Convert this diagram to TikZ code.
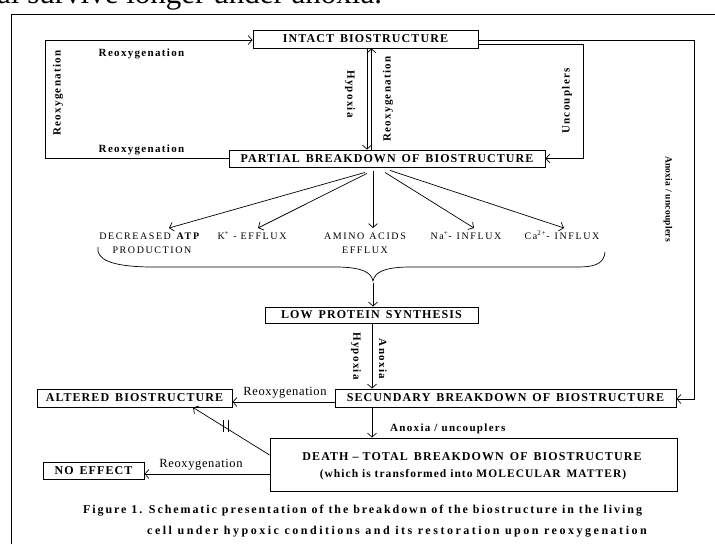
\documentclass[tikz,border=0pt]{standalone}
\usepackage{fontspec}
\setmainfont{Liberation Serif}
\newfontfamily\boxf[LetterSpace=9]{Liberation Serif}
\newfontfamily\labf[LetterSpace=12]{Liberation Serif}
\newfontfamily\labs[LetterSpace=3]{Liberation Serif}
\newfontfamily\effl[LetterSpace=16]{Liberation Serif}
\newfontfamily\plnf[LetterSpace=5]{Liberation Serif}
\newfontfamily\capf[LetterSpace=16]{Liberation Serif}
\newfontfamily\capg[LetterSpace=21]{Liberation Serif}
\newfontfamily\dthf[LetterSpace=9]{Liberation Serif}
\usetikzlibrary{arrows.meta}
\newcommand{\W}{\hspace{0.5em}}
\begin{document}
\begin{tikzpicture}[x=1pt,y=-1pt,
  box/.style={draw, line width=0.9pt, inner sep=0pt, font=\boxf\bfseries\fontsize{12}{14}\selectfont},
  lab/.style={font=\labf\bfseries\fontsize{11}{13}\selectfont, inner sep=0pt},
  eff/.style={font=\effl\fontsize{10}{12}\selectfont, inner sep=0pt, anchor=base},
  plainlab/.style={font=\plnf\fontsize{12.5}{14}\selectfont, inner sep=0pt, anchor=base},
  capt/.style={font=\capf\bfseries\fontsize{12}{14}\selectfont, inner sep=0pt, anchor=base west},
  arr/.style={-{Straight Barb[length=4pt,width=9pt]}, line width=0.7pt},
  ln/.style={line width=0.7pt}]
\useasboundingbox (0,0) rectangle (715,544);
\clip (0,0) rectangle (715,544);

% clipped text of the page above
\node[anchor=base west, inner sep=0pt, font=\fontsize{31}{34}\selectfont] (pagetxt) at (-3,3) {al survive longer under anoxia.};

% outer frame
\draw[line width=0.9pt] (11,544) -- (11,14) -- (715,14);

% boxes
\node[box, minimum width=225pt, minimum height=18pt] (intact) at (365.5,39) {INTACT\W BIOSTRUCTURE};
\node[box, minimum width=316pt, minimum height=17pt] (partial) at (387,158.5) {PARTIAL\W BREAKDOWN\W OF\W BIOSTRUCTURE};
\node[box, minimum width=213pt, minimum height=16pt] (low) at (371.5,315) {LOW\W PROTEIN\W SYNTHESIS};
\node[box, minimum width=341pt, minimum height=18pt] (secund) at (505.5,398) {SECUNDARY\W BREAKDOWN\W OF\W BIOSTRUCTURE};
\node[box, minimum width=195pt, minimum height=18pt] (altered) at (134.5,398) {ALTERED\W BIOSTRUCTURE};
\node[box, minimum width=407pt, minimum height=53pt] (death) at (473.5,464.5) {};
\node[box, minimum width=101pt, minimum height=17pt] (noeff) at (93.5,470.5) {NO\W EFFECT};

\node[font=\boxf\bfseries\fontsize{12}{14}\selectfont, inner sep=0pt, anchor=base] (d1) at (472,460.5) {DEATH – TOTAL\W BREAKDOWN\W OF\W BIOSTRUCTURE};
\node[font=\dthf\bfseries\fontsize{11.5}{13}\selectfont, inner sep=0pt, anchor=base] (d2) at (473,477) {(which is transformed into MOLECULAR\W MATTER)};

% coordinates
\coordinate (L) at (45.5,0);
\coordinate (hx) at (367,0);
\coordinate (rx) at (371.5,0);
\coordinate (ux) at (583,0);
\coordinate (ax) at (694.5,0);
\coordinate (vx) at (372,0);
\coordinate (t1) at (169,228);
\coordinate (t2) at (258,228);
\coordinate (t3) at (373,228);
\coordinate (t4) at (474,228);
\coordinate (t5) at (564,228);
\coordinate (bt) at (373,283);

% left loop
\draw[arr] (partial.west) -- (partial.west -| L) |- ([yshift=-1pt]intact.west);
\node[lab, anchor=base] (rl1) at (141.5,56.5) {Reoxygenation};
\node[lab, anchor=base] (rl2) at (141.5,152.5) {Reoxygenation};
\node[lab, rotate=90] (rl3) at (58,93) {Reoxygenation};

% hypoxia / reoxygenation between intact and partial
\draw[arr] (intact.south -| hx) -- (partial.north -| hx);
\draw[arr] (partial.north -| rx) -- (intact.south -| rx);
\node[lab, rotate=-90] (hy1) at (350,94) {Hypoxia};
\node[lab, rotate=90] (ro1) at (388,99) {Reoxygenation};

% uncouplers
\draw[arr] ([yshift=-5pt]intact.east) -| (partial.east -| ux) -- (partial.east);
\node[lab, rotate=90] (unc) at (567,101) {Uncouplers};

% anoxia / uncouplers right
\draw[arr] ([yshift=-1pt]intact.east) -| ([yshift=-1pt]secund.east -| ax) -- ([yshift=-1pt]secund.east);
\node[font=\labs\bfseries\fontsize{9.5}{11}\selectfont, inner sep=0pt, rotate=-90] (anu) at (668,199) {Anoxia / uncouplers};

% fan
\draw[arr] ([xshift=-22pt,yshift=-5pt]partial.south) -- (t1);
\draw[arr] ([xshift=-20pt,yshift=-6pt]partial.south) -- (t2);
\draw[arr] ([xshift=-14pt,yshift=-4pt]partial.south) -- (t3);
\draw[arr] ([xshift=-2pt,yshift=-5pt]partial.south) -- (t4);
\draw[arr] ([xshift=3pt,yshift=-3pt]partial.south) -- (t5);

\node[eff] (e1) at (150,239.5) {DECREASED \textbf{ATP}};
\node[eff] (e1b) at (152,253.5) {PRODUCTION};
\node[eff] (e2) at (252,239.5) {K\textsuperscript{+} - EFFLUX};
\node[eff] (e3) at (365,239.5) {AMINO\W ACIDS};
\node[eff] (e3b) at (365,253.5) {EFFLUX};
\node[eff] (e4) at (466,239.5) {Na\textsuperscript{+}-\W INFLUX};
\node[eff] (e5) at (562,239.5) {Ca\textsuperscript{2+}-\W INFLUX};

% brace
\draw[ln] (98,247) .. controls (96,259) and (110,266.5) .. (150,267) -- (338,267)
  .. controls (362,267.5) and (371,272) .. (373,281)
  .. controls (375,272) and (384,267.5) .. (408,267) -- (578,267)
  .. controls (598,267) and (604,262) .. (605,252);
\draw[arr] (bt) -- (bt |- low.north);

% low -> secund
\draw[arr] (low.south -| vx) -- (secund.north -| vx);
\node[lab, rotate=-90] (hy2) at (356,356) {Hypoxia};
\node[lab, rotate=-90] (an2) at (383,359) {Anoxia};

% secund -> altered
\draw[arr] ([yshift=-4pt]secund.west) -- ([yshift=-4pt]secund.west -| altered.east);
\node[plainlab] (ro2) at (285,395) {Reoxygenation};

% secund -> death
\draw[arr] (secund.south -| vx) -- (death.north -| vx);
\node[lab, anchor=base west] (anu2) at (390,431) {Anoxia / uncouplers};

% death -> altered (blocked)
\draw[arr] ([yshift=9.5pt]death.west) -- ([xshift=58.5pt]altered.south);
\draw[ln] (223,420) -- (223,432);
\draw[ln] (228,420) -- (228,432);

% death -> no effect
\draw[arr] ([yshift=-9.5pt]death.west) -- ([yshift=-9.5pt]death.west -| noeff.east);
\node[plainlab] (ro3) at (201,467) {Reoxygenation};

% caption
\node[capt] (c1) at (83,513) {Figure 1. Schematic presentation of the breakdown of the biostructure in the living};
\node[capt, font=\capg\bfseries\fontsize{12}{14}\selectfont] (c2) at (147,534) {cell under hypoxic conditions and its restoration upon reoxygenation};
\end{tikzpicture}
\end{document}
